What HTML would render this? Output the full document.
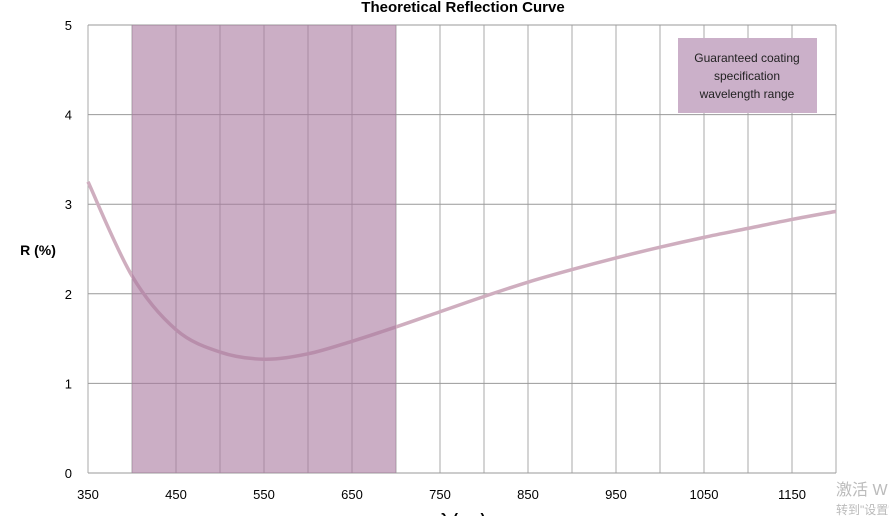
<!DOCTYPE html>
<html><head><meta charset="utf-8"><style>
body{margin:0;background:#fff;width:889px;height:516px;overflow:hidden;font-family:"Liberation Sans","Noto Sans CJK SC",sans-serif}
</style></head><body>
<svg id="chart" width="889" height="516" xmlns="http://www.w3.org/2000/svg" font-family="Liberation Sans, Noto Sans CJK SC, sans-serif">
<text x="463" y="12" text-anchor="middle" font-size="15" font-weight="bold">Theoretical Reflection Curve</text>
<text x="38" y="255" text-anchor="middle" font-size="14" font-weight="bold">R (%)</text>
<text x="463" y="524" text-anchor="middle" font-size="15" font-weight="bold">λ (nm)</text>
<g id="grid"></g><g id="line"></g><g id="band"></g><g id="ticks"></g>
<g>
<rect x="678" y="38" width="139" height="75" fill="#cbb0c9"/>
<text x="747" y="62" text-anchor="middle" font-size="12" fill="#222">Guaranteed coating</text>
<text x="747" y="80" text-anchor="middle" font-size="12" fill="#222">specification</text>
<text x="747" y="98" text-anchor="middle" font-size="12" fill="#222">wavelength range</text>
</g>
<text x="836" y="495" font-size="16" fill="#bbb">激活 W</text>
<text x="836" y="514" font-size="12" fill="#bbb">转到"设置"</text>
</svg>
<script>
const wavelengths=[350,400,450,500,550,600,650,700,750,800,850,900,950,1000,1050,1100,1150,1200];
const reflectance=[3.25,2.2,1.6,1.35,1.27,1.33,1.47,1.63,1.8,1.97,2.13,2.27,2.4,2.52,2.63,2.73,2.83,2.92];
const xTicks=[350,450,550,650,750,850,950,1050,1150];
const yTicks=[0,1,2,3,4,5];
const bandRange=[400,700];
const NS="http://www.w3.org/2000/svg";
const X0=88,X1=836,Y0=473,Y1=25;
const xs=v=>X0+(v-350)/(1200-350)*(X1-X0);
const ys=v=>Y0-(v/5)*(Y0-Y1);
function mk(t,a,p){const e=document.createElementNS(NS,t);for(const k in a)e.setAttribute(k,a[k]);document.getElementById(p).appendChild(e);return e;}
for(let w=350;w<=1200;w+=50){const l=mk('line',{x1:xs(w),x2:xs(w),y1:Y1,y2:Y0,stroke:'#aaa','stroke-width':1},'grid');

}
yTicks.forEach(v=>{const l=mk('line',{x1:X0,x2:X1,y1:ys(v),y2:ys(v),stroke:'#999','stroke-width':1},'grid');


const t=mk('text',{x:72,y:ys(v)+5,'text-anchor':'end','font-size':13},'ticks');t.textContent=v;

});
xTicks.forEach(v=>{const t=mk('text',{x:xs(v),y:499,'text-anchor':'middle','font-size':13},'ticks');t.textContent=v;

});
const b=mk('rect',{x:xs(bandRange[0]),y:Y1,width:xs(bandRange[1])-xs(bandRange[0]),height:Y0-Y1,fill:'#a8789f','fill-opacity':0.6},'band');


const pts=wavelengths.map((w,i)=>[xs(w),ys(reflectance[i])]);
let d=`M${pts[0][0]},${pts[0][1]}`;
for(let i=0;i<pts.length-1;i++){const p0=pts[i-1]||pts[i],p1=pts[i],p2=pts[i+1],p3=pts[i+2]||p2;
d+=` C${p1[0]+(p2[0]-p0[0])/6},${p1[1]+(p2[1]-p0[1])/6} ${p2[0]-(p3[0]-p1[0])/6},${p2[1]-(p3[1]-p1[1])/6} ${p2[0]},${p2[1]}`;}
const ln=mk('path',{d:d,fill:'none',stroke:'#cfaebf','stroke-width':3.5},'line');


</script>
</body></html>
